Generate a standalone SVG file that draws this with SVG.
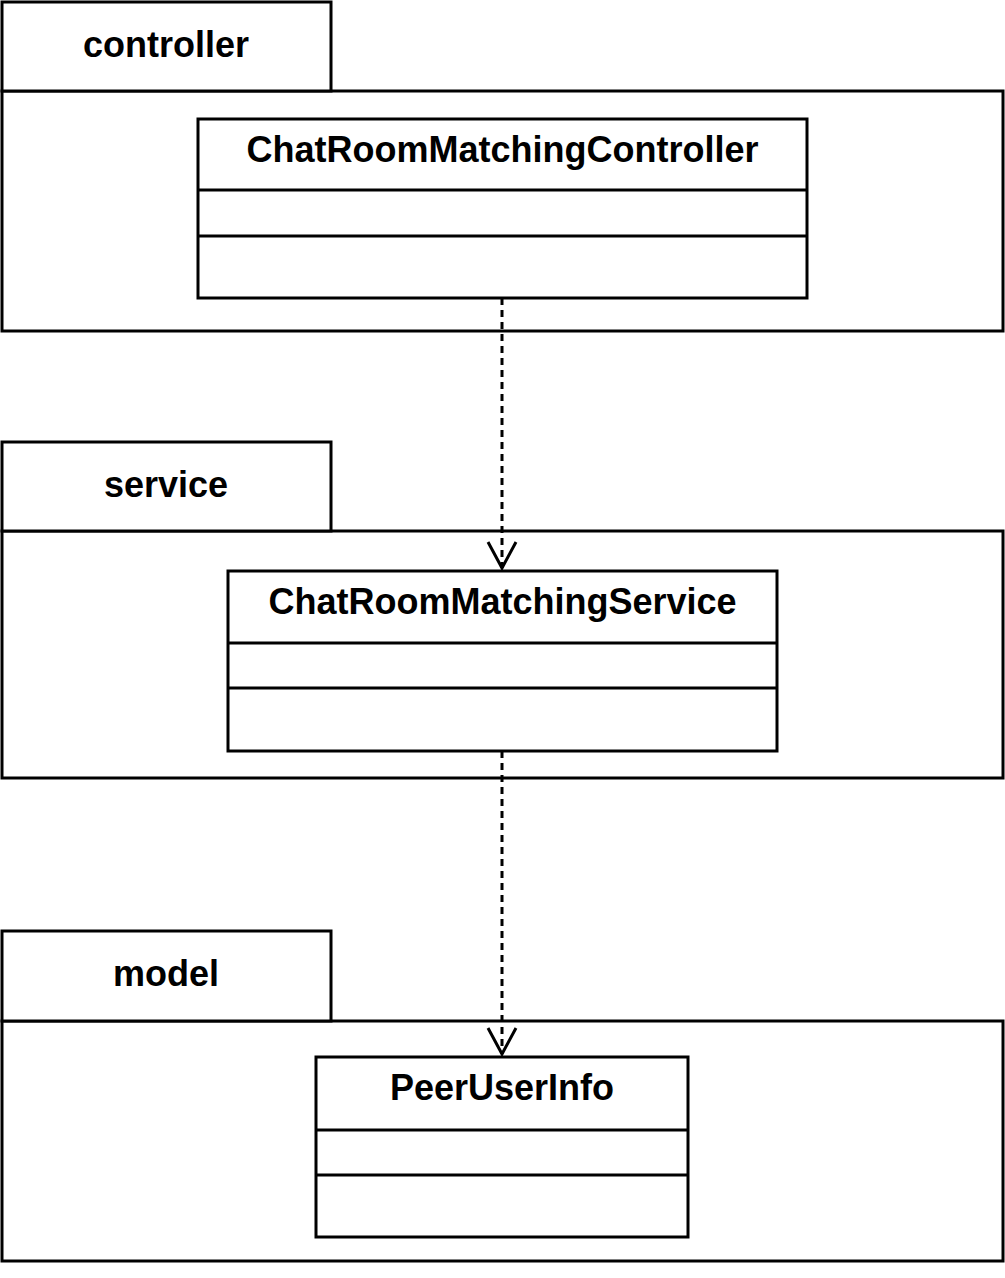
<svg xmlns="http://www.w3.org/2000/svg" width="1005" height="1278" viewBox="0 0 1005 1278">
<style>
.box{fill:#fff;stroke:#000;stroke-width:3}
.sep{stroke:#000;stroke-width:3;fill:none}
.lbl{font-family:"Liberation Sans",Arial,sans-serif;font-weight:bold;font-size:36px;text-anchor:middle;fill:#000}
.dep{stroke:#000;stroke-width:3;fill:none;stroke-dasharray:7 5}
</style>
<defs>
<marker id="open" markerUnits="userSpaceOnUse" markerWidth="40" markerHeight="40" viewBox="-32 -20 40 40" refX="0" refY="0" orient="auto">
<path d="M-26,-13 L0,0 L-26,13" fill="none" stroke="#000" stroke-width="3"/>
</marker>
</defs>
<rect width="1005" height="1278" fill="#fff"/>
<g id="pkg-controller">
<rect class="box" x="2" y="91" width="1001" height="240"/>
<rect class="box" x="2" y="2" width="329" height="89"/>
<text class="lbl" x="166" y="57">controller</text>
</g>
<g id="pkg-service">
<rect class="box" x="2" y="531" width="1001" height="247"/>
<rect class="box" x="2" y="442" width="329" height="89"/>
<text class="lbl" x="166" y="497">service</text>
</g>
<g id="pkg-model">
<rect class="box" x="2" y="1021" width="1001" height="240"/>
<rect class="box" x="2" y="931" width="329" height="90"/>
<text class="lbl" x="166" y="986">model</text>
</g>
<g id="cls-controller">
<rect class="box" x="198" y="119" width="609" height="179"/>
<line class="sep" x1="198" y1="190" x2="807" y2="190"/>
<line class="sep" x1="198" y1="236" x2="807" y2="236"/>
<text class="lbl" x="502.5" y="162">ChatRoomMatchingController</text>
</g>
<g id="cls-service">
<rect class="box" x="228" y="571" width="549" height="180"/>
<line class="sep" x1="228" y1="643" x2="777" y2="643"/>
<line class="sep" x1="228" y1="688" x2="777" y2="688"/>
<text class="lbl" x="502.5" y="614">ChatRoomMatchingService</text>
</g>
<g id="cls-model">
<rect class="box" x="316" y="1057" width="372" height="180"/>
<line class="sep" x1="316" y1="1130" x2="688" y2="1130"/>
<line class="sep" x1="316" y1="1175" x2="688" y2="1175"/>
<text class="lbl" x="502" y="1100">PeerUserInfo</text>
</g>
<g id="connectors">
<line class="dep" x1="502" y1="298" x2="502" y2="568"/>
<line class="dep" x1="502" y1="751" x2="502" y2="1054"/>
<path d="M488,542 L502,568 L516,542" fill="none" stroke="#000" stroke-width="3"/>
<path d="M488,1028 L502,1054 L516,1028" fill="none" stroke="#000" stroke-width="3"/>
</g>
</svg>
